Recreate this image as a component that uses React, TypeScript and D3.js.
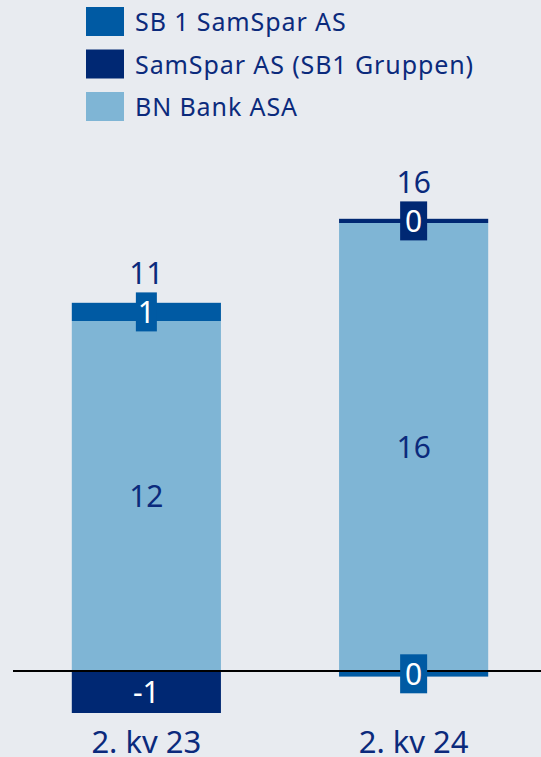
import React from "react";
import * as d3 from "d3";

const categories = ["2. kv 23", "2. kv 24"];
const seriesNames = ["BN Bank ASA", "SB 1 SamSpar AS", "SamSpar AS (SB1 Gruppen)"];
const bnBank = [12.5, 16];
const sb1SamSpar = [0.65, -0.2];
const samSparAS = [-1.5, 0.15];
const bnBankLabels = ["12", "16"];
const sb1SamSparLabels = ["1", "0"];
const samSparASLabels = ["-1", "0"];
const totalLabels = ["11", "16"];
const legendOrder = ["SB 1 SamSpar AS", "SamSpar AS (SB1 Gruppen)", "BN Bank ASA"];

const W = 541;
const H = 757;
const BG = "#e8ebf0";
const NAVY = "#0b2a7c";
const colors: Record<string, string> = {
  "BN Bank ASA": "#7fb5d5",
  "SB 1 SamSpar AS": "#005aa3",
  "SamSpar AS (SB1 Gruppen)": "#002873",
};
const FONT = "'Noto Sans', Lato, sans-serif";

function inkWidth(text: string, font: string): number {
  try {
    const c = document.createElement("canvas").getContext("2d");
    if (!c) return text.length * 15;
    c.font = font;
    const m = c.measureText(text);
    const w = (m.actualBoundingBoxLeft || 0) + (m.actualBoundingBoxRight || 0);
    return w > 0 ? w : m.width;
  } catch {
    return text.length * 15;
  }
}

export default function App() {
  const rows = categories.map((c, i) => ({
    cat: c,
    "BN Bank ASA": bnBank[i],
    "SB 1 SamSpar AS": sb1SamSpar[i],
    "SamSpar AS (SB1 Gruppen)": samSparAS[i],
  }));
  const labels: Record<string, string[]> = {
    "BN Bank ASA": bnBankLabels,
    "SB 1 SamSpar AS": sb1SamSparLabels,
    "SamSpar AS (SB1 Gruppen)": samSparASLabels,
  };
  const stacked = d3
    .stack<any>()
    .keys(seriesNames)
    .offset(d3.stackOffsetDiverging)(rows);

  const x = d3
    .scaleBand<string>()
    .domain(categories)
    .range([13, 547])
    .paddingInner(0.442)
    .paddingOuter(0.22);
  const y = d3.scaleLinear().domain([-2, 18]).range([727, 167]);

  const valueFontSize = 30;
  const valueFont = `${valueFontSize}px 'Noto Sans'`;
  const boxH = 39;

  const barTops = categories.map((_, i) =>
    d3.min(stacked, (s) => y(Math.max(s[i][0], s[i][1]))) as number
  );

  const segs: any[] = [];
  stacked.forEach((s) => {
    s.forEach((d, i) => {
      const y0 = y(Math.max(d[0], d[1]));
      const y1 = y(Math.min(d[0], d[1]));
      segs.push({ key: s.key, i, y0, y1, h: y1 - y0, label: labels[s.key][i] });
    });
  });

  const labelTop = categories.map((_, i) => {
    let top = barTops[i];
    segs
      .filter((g) => g.i === i && g.h < boxH)
      .forEach((g) => {
        const cy = (g.y0 + g.y1) / 2;
        top = Math.min(top, cy - boxH / 2);
      });
    return top;
  });

  return (
    <svg
      width={W}
      height={H}
      style={{ position: "absolute", left: 0, top: 0, display: "block" }}
      fontFamily={FONT}
    >
      <rect x={0} y={0} width={W} height={H} fill={BG} />
      {/* legend */}
      {legendOrder.map((name, k) => (
        <g key={name} transform={`translate(86, ${7 + k * 42.5})`}>
          <rect width={38} height={29} fill={colors[name]} />
          <text x={49} y={24} fontSize={25} letterSpacing={0.9} fill={NAVY}>
            {name}
          </text>
        </g>
      ))}
      {/* bars */}
      {segs.map((g) => (
        <rect
          key={g.key + g.i}
          x={x(categories[g.i])}
          y={g.y0}
          width={x.bandwidth()}
          height={g.h}
          fill={colors[g.key]}
        />
      ))}
      {/* zero line */}
      <line x1={13} x2={W} y1={y(0)} y2={y(0)} stroke="#000" strokeWidth={2} />
      {/* segment labels */}
      {segs.map((g) => {
        const cx = (x(categories[g.i]) as number) + x.bandwidth() / 2;
        const cy = (g.y0 + g.y1) / 2;
        const small = g.h < boxH;
        const bw = inkWidth(g.label, valueFont) + 12;
        const isLight = g.key === "BN Bank ASA";
        return (
          <g key={"l" + g.key + g.i}>
            {small && (
              <rect x={cx - bw / 2} y={cy - boxH / 2} width={bw} height={boxH} fill={colors[g.key]} />
            )}
            <text
              x={cx}
              y={cy}
              dy="0.36em"
              textAnchor="middle"
              fontSize={valueFontSize}
              fill={isLight ? NAVY : "#fff"}
            >
              {g.label}
            </text>
          </g>
        );
      })}
      {/* totals */}
      {categories.map((c, i) => (
        <text
          key={"t" + c}
          x={(x(c) as number) + x.bandwidth() / 2}
          y={labelTop[i] - 8}
          textAnchor="middle"
          fontSize={valueFontSize}
          fill={NAVY}
        >
          {totalLabels[i]}
        </text>
      ))}
      {/* category labels */}
      {categories.map((c) => (
        <text
          key={"c" + c}
          x={(x(c) as number) + x.bandwidth() / 2}
          y={753}
          textAnchor="middle"
          fontSize={31}
          fill={NAVY}
        >
          {c}
        </text>
      ))}
    </svg>
  );
}
